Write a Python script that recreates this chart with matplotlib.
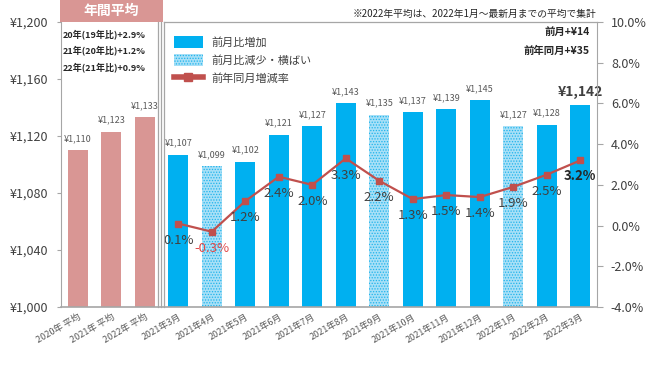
import matplotlib
matplotlib.use('Agg')
import matplotlib.pyplot as plt
from matplotlib.lines import Line2D
from matplotlib.patches import Rectangle, Patch

plt.rcParams['font.family'] = ['Noto Sans CJK JP', 'DejaVu Sans']
plt.rcParams['hatch.linewidth'] = 0.6

labels = ['2020年 平均', '2021年 平均', '2022年 平均', '2021年3月', '2021年4月', '2021年5月',
          '2021年6月', '2021年7月', '2021年8月', '2021年9月', '2021年10月', '2021年11月',
          '2021年12月', '2022年1月', '2022年2月', '2022年3月']
prices = [1110, 1123, 1133, 1107, 1099, 1102, 1121, 1127, 1143, 1135, 1137, 1139, 1145, 1127, 1128, 1142]
kinds = ['avg', 'avg', 'avg', 'up', 'down', 'up', 'up', 'up', 'up', 'down', 'up', 'up', 'up', 'down', 'up', 'up']
yoy = [0.1, -0.3, 1.2, 2.4, 2.0, 3.3, 2.2, 1.3, 1.5, 1.4, 1.9, 2.5, 3.2]

PINK = '#D99694'
BLUE = '#00B0F0'
LIGHT = '#A8E0F7'
RED = '#C0504D'
GRAY = '#A6A6A6'

W, H = 650, 380
fig = plt.figure(figsize=(6.5, 3.8), dpi=100)
ax = fig.add_axes([61 / W, 1 - 307 / H, (597 - 61) / W, (307 - 22) / H])

def px(x, y):
    return (x / W, 1 - y / H)

x = list(range(len(prices)))
for i, (p, k) in enumerate(zip(prices, kinds)):
    if k == 'avg':
        ax.bar(i, p - 1000, bottom=1000, width=0.6, color=PINK, linewidth=0)
    elif k == 'up':
        ax.bar(i, p - 1000, bottom=1000, width=0.6, color=BLUE, linewidth=0)
    else:
        ax.bar(i, p - 1000, bottom=1000, width=0.6, color=LIGHT, edgecolor='#1FB4EC',
               hatch='......', linewidth=0)
    if i == len(prices) - 1:
        ax.annotate('¥{:,}'.format(p), (i, p), xytext=(0, 4), textcoords='offset points',
                    ha='center', va='bottom', fontsize=10, fontweight='bold', color='#404040')
    else:
        ax.annotate('¥{:,}'.format(p), (i, p), xytext=(0, 5), textcoords='offset points',
                    ha='center', va='bottom', fontsize=6.5, color='#595959')

ax.set_xlim(-0.5, len(prices) - 0.5)
ax.set_ylim(1000, 1200)
ax.set_yticks([1000, 1040, 1080, 1120, 1160, 1200])
ax.set_yticklabels(['¥{:,}'.format(v) for v in [1000, 1040, 1080, 1120, 1160, 1200]],
                   fontsize=9, color='#404040')
ax.set_xticks(x)
ax.set_xticklabels(labels, rotation=30, ha='right', rotation_mode='anchor', fontsize=6.5, color='#595959')
ax.tick_params(axis='x', length=0, pad=4)
ax.tick_params(axis='y', length=3, color=GRAY, pad=6)
for s in ['top', 'right']:
    ax.spines[s].set_visible(False)
ax.spines['left'].set_color(GRAY)
ax.spines['bottom'].set_color(GRAY)
ax.spines['bottom'].set_linewidth(1.2)

ax2 = ax.twinx()
ax2.set_ylim(-4, 10)
ax2.set_yticks([-4, -2, 0, 2, 4, 6, 8, 10])
ax2.set_yticklabels(['{:.1f}%'.format(v) for v in [-4, -2, 0, 2, 4, 6, 8, 10]], fontsize=9, color='#404040')
ax2.tick_params(axis='y', length=4, color=GRAY, pad=6)
for s in ['top', 'left', 'bottom']:
    ax2.spines[s].set_visible(False)
ax2.spines['right'].set_color(GRAY)

mx = x[3:]
ax2.plot(mx, yoy, color=RED, linewidth=1.6, marker='s', markersize=5)
for xi, v in zip(mx, yoy):
    if v < 0:
        ax2.annotate('{:.1f}%'.format(v), (xi, v), xytext=(0, -12), textcoords='offset points',
                     ha='center', va='center', fontsize=9.5, color='#E04848')
    elif xi == mx[-1]:
        ax2.annotate('{:.1f}%'.format(v), (xi, v), xytext=(0, -11), textcoords='offset points',
                     ha='center', va='center', fontsize=9.5, fontweight='bold', color='#262626')
    else:
        ax2.annotate('{:.1f}%'.format(v), (xi, v), xytext=(0, -12), textcoords='offset points',
                     ha='center', va='center', fontsize=9.5, color='#404040')

# frames and header
fig.add_artist(Rectangle(px(60, 22), 103 / W, 22 / H, transform=fig.transFigure, color=PINK, lw=0))
fig.text(*px(111, 11), '年間平均', ha='center', va='center', fontsize=10, fontweight='bold', color='white')
for (x0, y0, x1, y1) in [(158, 22, 158, 307), (161, 22, 161, 307), (164, 22, 164, 307),
                          (164, 22, 597, 22)]:
    fig.add_artist(Line2D([x0 / W, x1 / W], [1 - y0 / H, 1 - y1 / H], transform=fig.transFigure,
                          color=GRAY, lw=0.9))

for i, t in enumerate(['20年(19年比)+2.9%', '21年(20年比)+1.2%', '22年(21年比)+0.9%']):
    fig.text(*px(63, 34 + i * 16.5), t, ha='left', va='center', fontsize=6.5, fontweight='bold', color='#262626')

fig.text(*px(596, 14), '※2022年平均は、2022年1月～最新月までの平均で集計', ha='right', va='center',
         fontsize=7, color='#262626')
fig.text(*px(590, 32), '前月+¥14', ha='right', va='center', fontsize=7.5, fontweight='bold', color='#262626')
fig.text(*px(590, 51), '前年同月+¥35', ha='right', va='center', fontsize=7.5, fontweight='bold', color='#262626')

handles = [Patch(facecolor=BLUE, linewidth=0),
           Patch(facecolor=LIGHT, edgecolor='#1FB4EC', hatch='......', linewidth=0),
           Line2D([0], [0], color=RED, lw=4, marker='s', markersize=6)]
ax.legend(handles, ['前月比増加', '前月比減少・横ばい', '前年同月増減率'], loc='upper left',
          bbox_to_anchor=((166 - 61) / (597 - 61), 1 - 6 / 285), frameon=False, fontsize=8,
          labelcolor='#404040', handlelength=2.6, handleheight=1.3, labelspacing=0.55, borderaxespad=0.3)

fig.savefig('out.png', dpi=100)
